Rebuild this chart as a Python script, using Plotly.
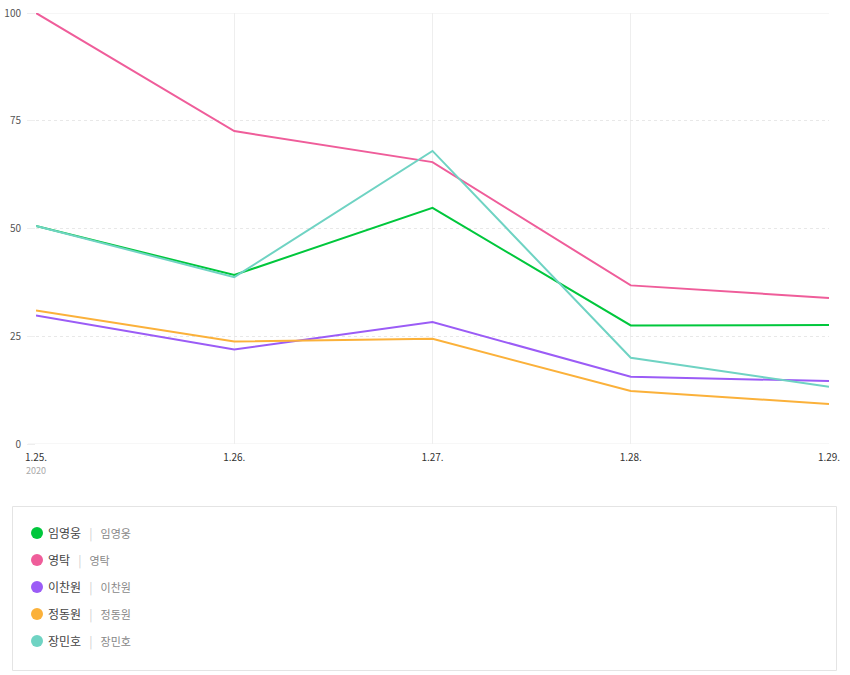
import plotly.graph_objects as go

dates = ["1.25.", "1.26.", "1.27.", "1.28.", "1.29."]
year_label = "2020"
names = ["임영웅", "영탁", "이찬원", "정동원", "장민호"]
colors = ["#00c73c", "#ef5d9a", "#9b5cf6", "#fbb13a", "#6fd3c3"]
values = {
    "임영웅": [50.6, 39.2, 54.8, 27.5, 27.6],
    "영탁": [100, 72.6, 65.4, 36.8, 33.9],
    "이찬원": [29.8, 21.9, 28.3, 15.6, 14.6],
    "정동원": [31.0, 23.8, 24.4, 12.3, 9.3],
    "장민호": [50.6, 38.7, 68.0, 20.0, 13.3],
}
y_ticks = [0, 25, 50, 75, 100]

W, H = 850, 675
L, R, T, B = 36, 21, 13, 231
PW, PH = W - L - R, H - T - B


def px_x(p):
    return (p - L) / PW


def px_y(p):
    return (H - B - p) / PH


font_kr = "Noto Sans CJK KR, sans-serif"

fig = go.Figure()
for name, col in zip(names, colors):
    fig.add_trace(go.Scatter(
        x=dates, y=values[name], mode="lines", name=name,
        line=dict(color=col, width=2), showlegend=False,
        hoverinfo="x+y+name",
    ))

ticktext = [dates[0] + "<br><span style='color:#aaa;font-size:9px'>" + year_label + "</span>"] + dates[1:]

fig.update_xaxes(
    type="category", range=[0, 4], tickvals=dates, ticktext=ticktext,
    showgrid=True, gridcolor="#eeeeee", gridwidth=1,
    showline=False, zeroline=False, ticks="outside", ticklen=4, tickcolor="rgba(0,0,0,0)",
    tickfont=dict(size=10, color="#333", family=font_kr), automargin=False,
)
fig.update_yaxes(
    range=[0, 100], tickvals=y_ticks, showgrid=True, gridcolor="#e8e8e8",
    griddash="dot", zeroline=False, ticks="outside", ticklen=8,
    tickcolor="#eeeeee", tickfont=dict(size=10, color="#555", family=font_kr),
    ticklabelstandoff=4,
    fixedrange=True, automargin=False,
)

shapes = [
    dict(type="line", xref="paper", yref="y", x0=px_x(28), x1=1, y0=0, y1=0,
         line=dict(color="#eeeeee", width=1), layer="below"),
    dict(type="line", xref="paper", yref="y", x0=px_x(28), x1=1, y0=100, y1=100,
         line=dict(color="#eeeeee", width=1), layer="below"),
    dict(type="rect", xref="paper", yref="paper", x0=px_x(12.5), x1=px_x(836.5),
         y0=px_y(670.5), y1=px_y(506.5), line=dict(color="#e4e4e4", width=1),
         fillcolor="rgba(0,0,0,0)"),
]
annotations = []
row_y = [533, 560, 587, 614, 641]
for name, col, ry in zip(names, colors, row_y):
    r = 6
    shapes.append(dict(type="circle", xref="paper", yref="paper",
                       x0=px_x(37 - r), x1=px_x(37 + r), y0=px_y(ry + r), y1=px_y(ry - r),
                       fillcolor=col, line=dict(width=0)))
    annotations.append(dict(
        xref="paper", yref="paper", x=px_x(46), y=px_y(ry), xanchor="left", yanchor="middle",
        showarrow=False,
        text=("<span style='color:#444'>" + name + "</span>"
              "   <span style='color:#d0d0d0'>|</span>   "
              "<span style='color:#888;font-size:11px'>" + name + "</span>"),
        font=dict(size=12, family=font_kr),
    ))

fig.update_layout(
    width=W, height=H, margin=dict(l=L, r=R, t=T, b=B),
    paper_bgcolor="white", plot_bgcolor="white",
    shapes=shapes, annotations=annotations, showlegend=False,
    font=dict(family=font_kr),
)

fig.write_html("out.html", config={"displayModeBar": False},
               post_script="document.body.style.margin='0';document.body.style.padding='0';document.body.style.overflow='hidden';")
